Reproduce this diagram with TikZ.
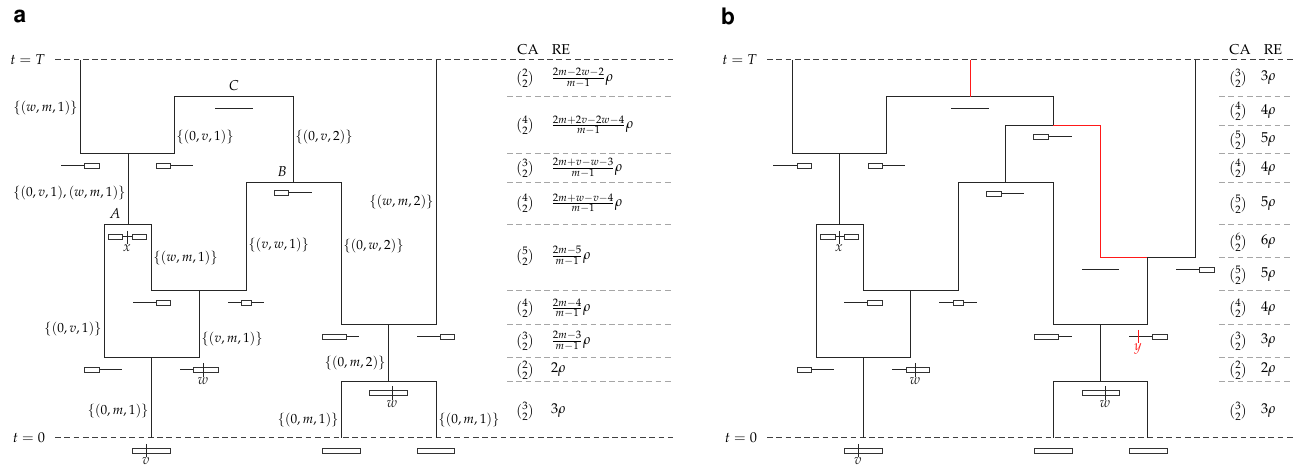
\documentclass[tikz,border=0pt]{standalone}
\usepackage[T1]{fontenc}
\usepackage{amsmath}
\usepackage{mathpazo}
\usepackage[scaled=0.92]{helvet}

\begin{document}
\begin{tikzpicture}[x=0.7pt, y=-0.7pt,
	tree/.style={line width=0.7pt, black!85},
	hit/.style={line width=0.7pt, red!90!white},
	timeline/.style={dash pattern=on 4pt off 2.5pt, line width=0.7pt, black!75},
	rowsep/.style={dash pattern=on 4pt off 2.5pt, line width=0.7pt, black!35},
	allele/.style={draw=black!80, line width=0.6pt, fill=white},
	seg/.style={line width=0.7pt, black!85},
	lab/.style={inner sep=1.5pt, font=\fontsize{9.3}{11}\selectfont},
	snp/.style={line width=0.7pt, black!85},
	]
	\useasboundingbox (0,0) rectangle (1298,468);

	% panel a
	\node[font=\LARGE\sffamily\bfseries] (pa) at (20,17) {a};
	\node[left] (tTa) at (50,60) {$t=T$};
	\node[left] (t0a) at (50,438) {$t=0$};
	\draw[timeline] (55,60) -- (673,60);
	\draw[timeline] (55,438) -- (673,438);

	\draw[tree] (80,60) -- (80,154) -- (174,154) -- (174,97) -- (293,97) -- (293,183);
	\draw[tree] (128,154) -- (128,225);
	\draw[tree] (246,291) -- (246,183) -- (341,183) -- (341,325) -- (436,325) -- (436,60);
	\draw[tree] (104,358) -- (104,225) -- (151,225) -- (151,291) -- (246,291);
	\draw[tree] (104,358) -- (199,358) -- (199,291);
	\draw[tree] (151,358) -- (151,438);
	\draw[tree] (388,325) -- (388,382);
	\draw[tree] (341,438) -- (341,382) -- (436,382) -- (436,438);

	\node (C) at (234,86) {$C$};
	\node (B) at (282,172) {$B$};
	\node (A) at (115,214) {$A$};
	\node[left,lab] (la1) at (80,108) {$\{(w,m,1)\}$};
	\node[right,lab] (la2) at (174,137) {$\{(0,v,1)\}$};
	\node[right,lab] (la3) at (293,137) {$\{(0,v,2)\}$};
	\node[left,lab] (la4) at (128,193) {$\{(0,v,1),(w,m,1)\}$};
	\node[left,lab] (la5) at (436,202) {$\{(w,m,2)\}$};
	\node[right,lab] (la6) at (246,245) {$\{(v,w,1)\}$};
	\node[right,lab] (la7) at (151,258) {$\{(w,m,1)\}$};
	\node[right,lab] (la8) at (341,246) {$\{(0,w,2)\}$};
	\node[left,lab] (la9) at (104,329) {$\{(0,v,1)\}$};
	\node[right,lab] (la10) at (199,339) {$\{(v,m,1)\}$};
	\node[left,lab] (la11) at (388,363) {$\{(0,m,2)\}$};
	\node[left,lab] (la12) at (151,411) {$\{(0,m,1)\}$};
	\node[left,lab] (la13) at (341,420) {$\{(0,m,1)\}$};
	\node[right,lab] (la14) at (436,420) {$\{(0,m,1)\}$};

	% chromosomes a
	\draw[seg] (61,166) -- (84,166); \draw[allele] (84,163.5) rectangle (99,168.5);
	\draw[seg] (170,166) -- (193,166); \draw[allele] (156,163.5) rectangle (170,168.5);
	\draw[seg] (288,193) -- (312,193); \draw[allele] (274,190.5) rectangle (288,195.5);
	\draw[seg] (215,109) -- (253,109);
	\draw[seg] (122,237) -- (132,237); \draw[allele] (108,234.5) rectangle (122,239.5);
	\draw[allele] (132,234.5) rectangle (146,239.5);
	\draw[snp] (127,231) -- (127,244) node[below,inner sep=0pt] (xa) {$x$};
	\draw[seg] (133,303) -- (156,303); \draw[allele] (156,300.5) rectangle (170,305.5);
	\draw[seg] (228,303) -- (264,303); \draw[allele] (241,300.5) rectangle (251,305.5);
	\draw[seg] (99,370) -- (122,370); \draw[allele] (84,367.5) rectangle (99,372.5);
	\draw[seg] (180,370) -- (193,370); \draw[allele] (193,367.5) rectangle (218,372.5);
	\draw[snp] (203,363) -- (203,377) node[below,inner sep=0pt] (wa1) {$w$};
	\draw[allele] (132,448.5) rectangle (170,453.5);
	\draw[snp] (146,444) -- (146,457) node[below,inner sep=0pt] (va) {$v$};
	\draw[seg] (346,337) -- (359,337); \draw[allele] (322,334.5) rectangle (346,339.5);
	\draw[seg] (417,337) -- (440,337); \draw[allele] (440,334.5) rectangle (454,339.5);
	\draw[allele] (369,390.5) rectangle (407,395.5);
	\draw[snp] (392,386) -- (392,400) node[below,inner sep=0pt] (wa2) {$w$};
	\draw[allele] (322,448.5) rectangle (360,453.5);
	\draw[allele] (417,448.5) rectangle (454,453.5);

	% table a
	\node (caA) at (528,50) {CA};
	\node (reA) at (561,50) {RE};
	\foreach \y in {97,154,183,225,291,325,358,382}
		\draw[rowsep] (507,\y) -- (673,\y);
	\node (ca1) at (525,78) {$\binom{2}{2}$}; \node[right] (re1) at (546,78) {$\frac{2m-2w-2}{m-1}\rho$};
	\node (ca2) at (525,125) {$\binom{4}{2}$}; \node[right] (re2) at (546,125) {$\frac{2m+2v-2w-4}{m-1}\rho$};
	\node (ca3) at (525,168) {$\binom{3}{2}$}; \node[right] (re3) at (546,168) {$\frac{2m+v-w-3}{m-1}\rho$};
	\node (ca4) at (525,203) {$\binom{4}{2}$}; \node[right] (re4) at (546,203) {$\frac{2m+w-v-4}{m-1}\rho$};
	\node (ca5) at (525,256) {$\binom{5}{2}$}; \node[right] (re5) at (546,256) {$\frac{2m-5}{m-1}\rho$};
	\node (ca6) at (525,308) {$\binom{4}{2}$}; \node[right] (re6) at (546,308) {$\frac{2m-4}{m-1}\rho$};
	\node (ca7) at (525,341) {$\binom{3}{2}$}; \node[right] (re7) at (546,341) {$\frac{2m-3}{m-1}\rho$};
	\node (ca8) at (525,370) {$\binom{2}{2}$}; \node[right] (re8) at (546,370) {$2\rho$};
	\node (ca9) at (525,411) {$\binom{3}{2}$}; \node[right] (re9) at (546,411) {$3\rho$};

	% panel b
	\node[font=\LARGE\sffamily\bfseries] (pb) at (728,17) {b};
	\node[left] (tTb) at (762,60) {$t=T$};
	\node[left] (t0b) at (762,438) {$t=0$};
	\draw[timeline] (767,60) -- (1293,60);
	\draw[timeline] (767,438) -- (1293,438);

	\draw[tree] (792,60) -- (792,154) -- (886,154) -- (886,97) -- (1053,97) -- (1053,126) -- (1005,126) -- (1005,183);
	\draw[hit] (970,60) -- (970,97);
	\draw[hit] (1053,126) -- (1100,126) -- (1100,258) -- (1147,258);
	\draw[tree] (1147,258) -- (1195,258) -- (1195,60);
	\draw[tree] (958,291) -- (958,183) -- (1053,183) -- (1053,325) -- (1147,325) -- (1147,258);
	\draw[tree] (839,154) -- (839,225);
	\draw[tree] (816,358) -- (816,225) -- (863,225) -- (863,291) -- (958,291);
	\draw[tree] (816,358) -- (910,358) -- (910,291);
	\draw[tree] (863,358) -- (863,438);
	\draw[tree] (1100,325) -- (1100,382);
	\draw[tree] (1053,438) -- (1053,382) -- (1147,382) -- (1147,438);

	% chromosomes b
	\draw[seg] (773,166) -- (797,166); \draw[allele] (797,163.5) rectangle (811,168.5);
	\draw[seg] (882,166) -- (905,166); \draw[allele] (868,163.5) rectangle (882,168.5);
	\draw[seg] (951,109) -- (989,109);
	\draw[seg] (1048,137) -- (1072,137); \draw[allele] (1033,134.5) rectangle (1048,139.5);
	\draw[seg] (1001,194) -- (1024,194); \draw[allele] (986,191.5) rectangle (1001,196.5);
	\draw[seg] (835,237) -- (844,237); \draw[allele] (820,234.5) rectangle (835,239.5);
	\draw[allele] (844,234.5) rectangle (858,239.5);
	\draw[snp] (839,231) -- (839,244) node[below,inner sep=0pt] (xb) {$x$};
	\draw[seg] (844,303) -- (867,303); \draw[allele] (867,300.5) rectangle (882,305.5);
	\draw[seg] (939,303) -- (977,303); \draw[allele] (953,300.5) rectangle (963,305.5);
	\draw[seg] (811,370) -- (834,370); \draw[allele] (797,367.5) rectangle (811,372.5);
	\draw[seg] (892,370) -- (906,370); \draw[allele] (906,367.5) rectangle (929,372.5);
	\draw[snp] (915,363) -- (915,377) node[below,inner sep=0pt] (wb1) {$w$};
	\draw[allele] (844,448.5) rectangle (882,453.5);
	\draw[snp] (858,444) -- (858,457) node[below,inner sep=0pt] (vb) {$v$};
	\draw[seg] (1082,270) -- (1119,270);
	\draw[seg] (1176,270) -- (1199,270); \draw[allele] (1199,267.5) rectangle (1214,272.5);
	\draw[seg] (1058,337) -- (1072,337); \draw[allele] (1034,334.5) rectangle (1058,339.5);
	\draw[seg] (1129,337) -- (1152,337); \draw[allele] (1152,334.5) rectangle (1167,339.5);
	\draw[hit] (1138,330) -- (1138,343) node[below,inner sep=0pt,text=red!90!white] (yb) {$y$};
	\draw[allele] (1082,390.5) rectangle (1119,395.5);
	\draw[snp] (1105,386) -- (1105,400) node[below,inner sep=0pt] (wb2) {$w$};
	\draw[allele] (1034,448.5) rectangle (1072,453.5);
	\draw[allele] (1129,448.5) rectangle (1167,453.5);

	% table b
	\node (caB) at (1240,50) {CA};
	\node (reB) at (1273,50) {RE};
	\foreach \y in {97,126,154,183,225,258,291,325,358,382}
		\draw[rowsep] (1219,\y) -- (1293,\y);
	\node (cb1) at (1238,78) {$\binom{3}{2}$}; \node[right] (rb1) at (1256,78) {$3\rho$};
	\node (cb2) at (1238,111) {$\binom{4}{2}$}; \node[right] (rb2) at (1256,111) {$4\rho$};
	\node (cb3) at (1238,140) {$\binom{5}{2}$}; \node[right] (rb3) at (1256,140) {$5\rho$};
	\node (cb4) at (1238,168) {$\binom{4}{2}$}; \node[right] (rb4) at (1256,168) {$4\rho$};
	\node (cb5) at (1238,204) {$\binom{5}{2}$}; \node[right] (rb5) at (1256,204) {$5\rho$};
	\node (cb6) at (1238,242) {$\binom{6}{2}$}; \node[right] (rb6) at (1256,242) {$6\rho$};
	\node (cb7) at (1238,275) {$\binom{5}{2}$}; \node[right] (rb7) at (1256,275) {$5\rho$};
	\node (cb8) at (1238,308) {$\binom{4}{2}$}; \node[right] (rb8) at (1256,308) {$4\rho$};
	\node (cb9) at (1238,341) {$\binom{3}{2}$}; \node[right] (rb9) at (1256,341) {$3\rho$};
	\node (cb10) at (1238,370) {$\binom{2}{2}$}; \node[right] (rb10) at (1256,370) {$2\rho$};
	\node (cb11) at (1238,411) {$\binom{3}{2}$}; \node[right] (rb11) at (1256,411) {$3\rho$};
\end{tikzpicture}
\end{document}
